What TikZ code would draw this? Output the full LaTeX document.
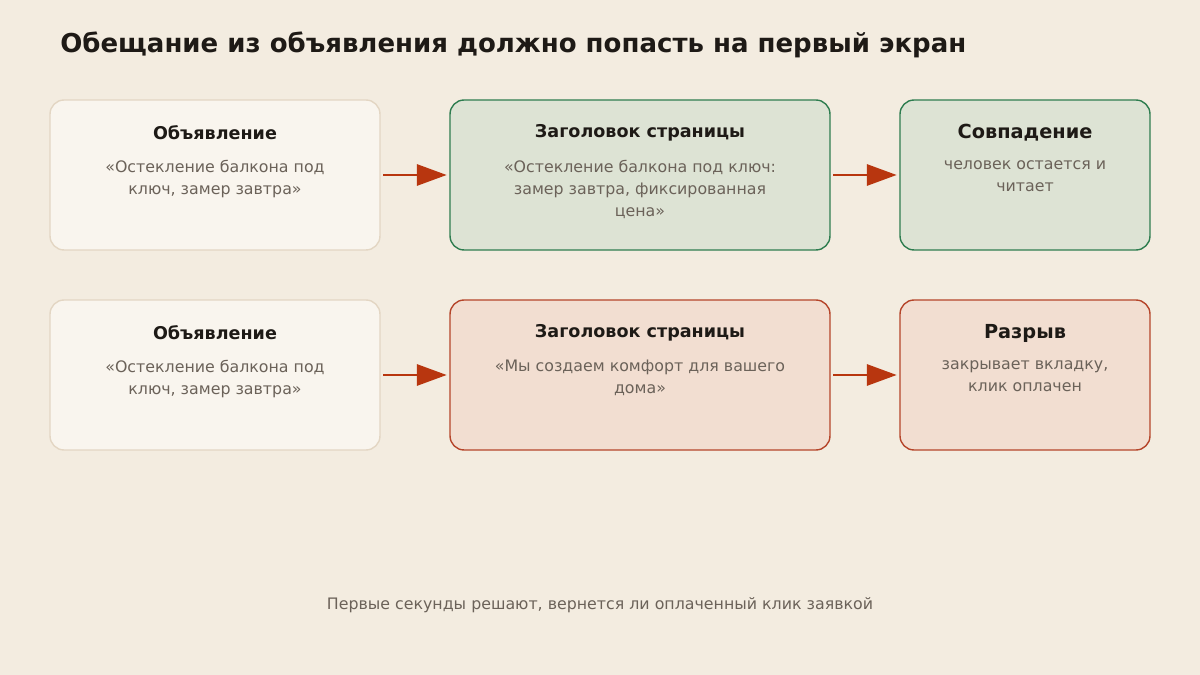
\documentclass[tikz,border=0pt]{standalone}
\usepackage{fontspec}
\setmainfont{DejaVu Sans}
\usetikzlibrary{arrows.meta,positioning}
\definecolor{paper}{HTML}{F3ECE0}
\definecolor{creamfill}{HTML}{F9F5EE}
\definecolor{creamline}{HTML}{E3D6C3}
\definecolor{sagefill}{HTML}{DDE3D4}
\definecolor{sageline}{HTML}{2E7D4F}
\definecolor{rustfill}{HTML}{F2DED1}
\definecolor{rustline}{HTML}{B5452A}
\definecolor{arrowred}{HTML}{B8360F}
\definecolor{inkdark}{HTML}{1E1A16}
\definecolor{inkgray}{HTML}{6B6259}
\tikzset{
  box/.style={draw, rounded corners=0.28cm, line width=0.8pt, minimum height=3cm},
  note/.style={box, fill=creamfill, draw=creamline, minimum width=6.6cm},
  good/.style={box, fill=sagefill, draw=sageline},
  bad/.style={box, fill=rustfill, draw=rustline},
  head/.style={font=\bfseries\fontsize{10}{12}\selectfont, text=inkdark},
  bighead/.style={font=\bfseries\fontsize{11}{13}\selectfont, text=inkdark},
  body/.style={anchor=north, align=center, font=\fontsize{9}{12.5}\selectfont, text=inkgray},
  flow/.style={arrowred, line width=1.6pt, shorten <=1.5pt, shorten >=1.5pt, -{Triangle[length=17pt,width=12pt]}}
}
\begin{document}
\begin{tikzpicture}[x=0.02cm,y=-0.02cm]
  \fill[paper] (0,0) rectangle (1200,675);
  \useasboundingbox (0,0) rectangle (1200,675);
  \node[anchor=west, inner sep=0pt, font=\bfseries\fontsize{14.8}{17}\selectfont, text=inkdark] (title) at (60,45) {Обещание из объявления должно попасть на первый экран};

  % Match row
  \node[note] (a1) at (215,175) {};
  \node[good, minimum width=7.6cm] (b1) at (640,175) {};
  \node[good, minimum width=5cm] (c1) at (1025,175) {};
  \node[head] (a1h) at (215,133) {Объявление};
  \node[body] (a1t) at (215,154) {«Остекление балкона под\\ключ, замер завтра»};
  \node[head] (b1h) at (640,133) {Заголовок страницы};
  \node[body] (b1t) at (640,154) {«Остекление балкона под ключ:\\замер завтра, фиксированная\\цена»};
  \node[bighead] (c1h) at (1025,133) {Совпадение};
  \node[body] (c1t) at (1025,154) {человек остается и\\читает};

  % Gap row
  \node[note] (a2) at (215,375) {};
  \node[bad, minimum width=7.6cm] (b2) at (640,375) {};
  \node[bad, minimum width=5cm] (c2) at (1025,375) {};
  \node[head] (a2h) at (215,333) {Объявление};
  \node[body] (a2t) at (215,354) {«Остекление балкона под\\ключ, замер завтра»};
  \node[head] (b2h) at (640,333) {Заголовок страницы};
  \node[body] (b2t) at (640,354) {«Мы создаем комфорт для вашего\\дома»};
  \node[bighead] (c2h) at (1025,333) {Разрыв};
  \node[body] (c2t) at (1025,354) {закрывает вкладку,\\клик оплачен};

  % Arrows
  \draw[flow] (a1) -- (b1);
  \draw[flow] (b1) -- (c1);
  \draw[flow] (a2) -- (b2);
  \draw[flow] (b2) -- (c2);

  \node[font=\fontsize{9}{11}\selectfont, text=inkgray] (foot) at (600,605) {Первые секунды решают, вернется ли оплаченный клик заявкой};
\end{tikzpicture}
\end{document}
